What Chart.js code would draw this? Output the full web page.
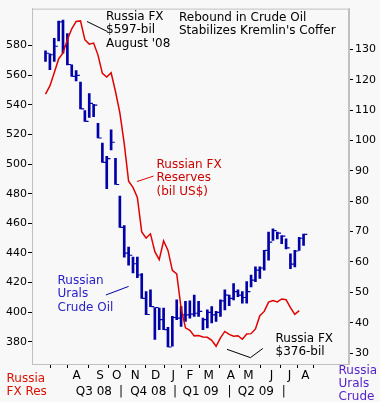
<!DOCTYPE html>
<html>
<head>
<meta charset="utf-8">
<script src="https://cdn.jsdelivr.net/npm/chart.js@4.4.1/dist/chart.umd.min.js"></script>
<style>
  html, body { margin: 0; padding: 0; background: #f8f8f8; }
  #wrap { width: 380px; height: 402px; position: relative; }
</style>
</head>
<body>
<div id="wrap"><canvas id="chart"></canvas></div>
<script>
// weekly Urals crude bars (US$/bbl), one per week from late June 2008
const oilHigh = [
  129.5, 128.5, 133.6, 139.3, 139.6, 135.2, 124.9, 123.0, 119.2, 109.8,
  115.4, 111.9, 105.6, 99.1, 94.8, 103.5, 94.1, 81.7, 72.0, 64.9,
  61.6, 61.6, 56.2, 50.2, 50.8, 45.0, 44.8, 44.8, 38.5, 42.1,
  47.5, 45.3, 47.0, 47.2, 49.1, 47.0, 41.5, 44.2, 45.3, 43.7,
  47.5, 50.8, 49.1, 52.9, 50.8, 50.2, 53.5, 55.7, 58.4, 58.4,
  63.8, 69.8, 70.9, 69.8, 68.7, 67.6, 62.7, 63.8, 68.1, 69.2
];
const oilLow = [
  126.0, 123.3, 126.0, 132.8, 128.7, 124.9, 121.1, 119.6, 110.4, 106.3,
  107.6, 107.8, 100.8, 92.8, 84.1, 96.9, 85.5, 71.4, 61.6, 58.9,
  56.4, 54.8, 48.0, 42.6, 45.3, 34.5, 37.7, 37.7, 32.0, 32.3,
  41.0, 38.8, 40.4, 41.5, 42.1, 42.1, 37.7, 38.3, 39.9, 40.4,
  42.1, 44.2, 45.6, 47.5, 48.6, 46.4, 46.4, 51.8, 53.5, 54.6,
  57.3, 60.6, 67.1, 67.6, 66.0, 64.3, 57.8, 58.4, 63.8, 65.4
];
const oilClose = [
  128.7, 128.2, 131.0, 139.0, 131.0, 125.0, 121.1, 121.4, 110.4, 106.3,
  112.2, 111.6, 100.8, 92.8, 94.0, 99.4, 85.5, 71.4, 62.9, 62.2,
  59.4, 55.7, 48.0, 42.7, 45.3, 45.0, 41.0, 37.7, 32.0, 41.7,
  41.5, 42.6, 42.6, 42.8, 43.1, 43.7, 41.0, 43.4, 42.6, 43.4,
  47.2, 49.1, 48.0, 50.2, 49.1, 48.3, 50.2, 54.0, 57.3, 58.0,
  63.8, 66.5, 70.3, 69.5, 68.5, 64.6, 59.3, 63.6, 67.8, 69.1
];

// Russia FX reserves, bil US$, same weeks
const fxReserves = [
  547.3, 552.8, 561.7, 571.0, 575.0, 584.0, 591.4, 596.3, 596.7, 584.0,
  581.0, 581.7, 573.6, 561.3, 558.8, 561.7, 549.0, 534.6, 513.8, 488.4,
  484.3, 477.5, 454.2, 450.0, 452.9, 440.9, 435.5, 448.2, 441.7, 428.2,
  425.8, 402.7, 389.4, 387.8, 384.0, 384.3, 383.3, 383.0, 381.0, 377.0,
  382.7, 387.0, 385.0, 383.7, 384.1, 381.7, 385.3, 385.5, 388.7, 397.6,
  400.5, 406.8, 407.8, 406.9, 408.9, 408.4, 403.1, 398.5, 401.0
];

// x axis (in weeks from start)
const monthLabels = ['', 'A', 'S', 'O', 'N', 'D', 'J', 'F', 'M', 'A', 'M', 'J', 'J', 'A'];
const monthWeeks  = [3.6, 7.6, 12.95, 16.8, 21.0, 25.7, 29.7, 33.5, 37.8, 42.9, 46.9, 52.2, 56.3, 59.9];
const quarterLabels = ['Q3 08', '|', 'Q4 08', '|', 'Q1 09', '|', 'Q2 09', '|'];
const quarterWeeks  = [10.2, 16.8, 23.4, 29.9, 36.1, 43.1, 49.5, 56.3];
const weekSpan = 67.3;

const fxTicks  = [380, 400, 420, 440, 460, 480, 500, 520, 540, 560, 580];
const oilTicks = [30, 40, 50, 60, 70, 80, 90, 100, 110, 120, 130];

const BLUE = '#0000a8';
const RED  = '#e00000';
const FONT = '"DejaVu Sans", Verdana, sans-serif';

Chart.defaults.font.family = FONT;
Chart.defaults.color = '#000';

const weekOf = i => i + 0.5;

// frame, notes and leader lines
const notes = {
  id: 'notes',
  afterDraw(chart) {
    const { ctx, chartArea: a, scales } = chart;
    const px = w => scales.x.getPixelForValue(w);
    const py = v => scales.yL.getPixelForValue(v);
    ctx.save();
    ctx.strokeStyle = '#c0c0c0';
    ctx.lineWidth = 1;
    ctx.strokeRect(a.left + 0.5, a.top + 0.5, a.right - a.left - 1, a.bottom - a.top);

    const lead = (pts, color) => {
      ctx.beginPath();
      ctx.strokeStyle = color;
      ctx.lineWidth = 1;
      pts.forEach(([w, v], k) => k ? ctx.lineTo(px(w), py(v)) : ctx.moveTo(px(w), py(v)));
      ctx.stroke();
    };
    lead([[9.98, 596.3], [14.6, 589.6]], '#000');
    lead([[21.4, 488.2], [25.2, 491.9]], RED);
    lead([[14.3, 411.6], [19.5, 417.4]], BLUE);
    lead([[42.0, 374.9], [47.35, 369.3], [50.2, 375.5]], '#000');

    ctx.font = '12px ' + FONT;
    ctx.textBaseline = 'alphabetic';
    ctx.textAlign = 'left';
    const text = (lines, x, y, color) => {
      ctx.fillStyle = color;
      lines.forEach((s, k) => ctx.fillText(s, x, y + k * 13.4));
    };
    text(['Russia FX', '$597-bil', "August '08"], 106, 20, '#000');
    text(['Rebound in Crude Oil', "Stabilizes Kremlin's Coffer"], 179, 20.5, '#000');
    text(['Russian FX', 'Reserves', '(bil US$)'], 156.5, 168, '#cc0000');
    text(['Russian', 'Urals', 'Crude Oil'], 57.5, 284, '#2a20c8');
    text(['Russia FX', '$376-bil'], 275.5, 342, '#000');
    text(['Russia', 'FX Res'], 6.5, 382, '#dd1100');
    text(['Russia', 'Urals', 'Crude'], 338.5, 373.5, '#5522cc');
    ctx.restore();
  }
};

new Chart(document.getElementById('chart'), {
  type: 'bar',
  data: {
    datasets: [
      {
        type: 'line',
        label: 'Russia FX Reserves',
        data: fxReserves.map((v, i) => ({ x: weekOf(i), y: v })),
        xAxisID: 'x',
        yAxisID: 'yL',
        borderColor: RED,
        borderWidth: 1.5,
        pointRadius: 0,
        tension: 0,
        order: 0
      },
      {
        type: 'bar',
        label: 'Urals range',
        data: oilHigh.map((h, i) => ({ x: weekOf(i), y: [oilLow[i], h] })),
        xAxisID: 'x',
        yAxisID: 'yR',
        backgroundColor: BLUE,
        barThickness: 2,
        grouped: false,
        order: 1
      },
      {
        type: 'scatter',
        label: 'Urals close',
        data: oilClose.map((v, i) => ({ x: weekOf(i) + 0.5, y: v })),
        xAxisID: 'x',
        yAxisID: 'yR',
        pointStyle: 'line',
        pointRadius: 1.5,
        borderColor: BLUE,
        borderWidth: 1.2,
        order: 1
      }
    ]
  },
  options: {
    responsive: true,
    maintainAspectRatio: false,
    animation: false,
    layout: { padding: { top: 4 } },
    plugins: {
      legend: { display: false },
      tooltip: { enabled: false }
    },
    scales: {
      x: {
        type: 'linear', position: 'bottom', min: 0, max: weekSpan,
        afterBuildTicks: s => { s.ticks = monthWeeks.map(v => ({ value: v })); },
        afterFit: s => { s.height = 20; },
        ticks: { autoSkip: false, maxRotation: 0, padding: 1, font: { size: 12 },
                 callback: (v, i) => monthLabels[i] },
        grid: { drawOnChartArea: false, tickLength: 4, color: '#000' },
        border: { color: '#c0c0c0' }
      },
      q: {
        axis: 'x', type: 'linear', position: 'bottom', min: 0, max: weekSpan,
        afterBuildTicks: s => { s.ticks = quarterWeeks.map(v => ({ value: v })); },
        afterFit: s => { s.height = 18; },
        ticks: { autoSkip: false, maxRotation: 0, padding: 1, font: { size: 12 },
                 callback: (v, i) => quarterLabels[i] },
        grid: { display: false, drawTicks: false },
        border: { display: false }
      },
      yL: {
        type: 'linear', position: 'left', min: 365, max: 605,
        afterBuildTicks: s => { s.ticks = fxTicks.map(v => ({ value: v })); },
        afterFit: s => { s.width = 32; },
        ticks: { padding: 1, font: { size: 11 } },
        grid: { drawOnChartArea: false, tickLength: 4, color: '#000' },
        border: { color: '#c0c0c0' }
      },
      yR: {
        type: 'linear', position: 'right', min: 26.4, max: 143.4,
        afterBuildTicks: s => { s.ticks = oilTicks.map(v => ({ value: v })); },
        afterFit: s => { s.width = 31; },
        ticks: { padding: 2, font: { size: 11 } },
        grid: { drawOnChartArea: false, tickLength: 4, color: '#000' },
        border: { color: '#c0c0c0' }
      }
    }
  },
  plugins: [notes]
});
</script>
</body>
</html>
